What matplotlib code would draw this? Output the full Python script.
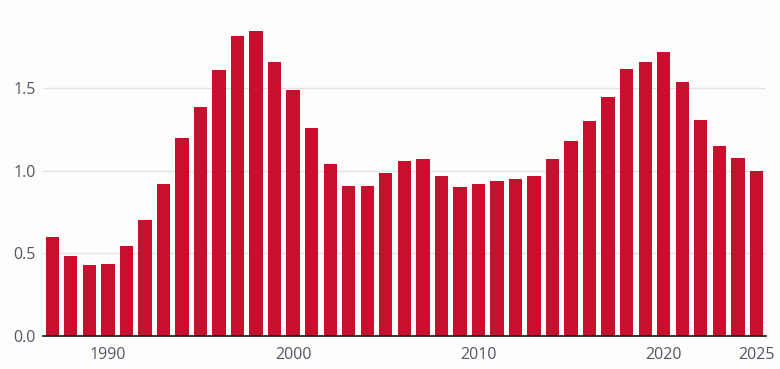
import matplotlib
matplotlib.use("Agg")
import matplotlib.pyplot as plt

years = list(range(1987, 2026))
values = [0.60, 0.485, 0.43, 0.436, 0.545, 0.70, 0.92, 1.20, 1.39, 1.61,
          1.82, 1.85, 1.66, 1.49, 1.26, 1.04, 0.91, 0.91, 0.99, 1.06,
          1.07, 0.97, 0.90, 0.92, 0.94, 0.95, 0.97, 1.07, 1.18, 1.30,
          1.45, 1.62, 1.66, 1.72, 1.54, 1.31, 1.15, 1.08, 1.00]
xticks = [1990, 2000, 2010, 2020, 2025]
yticks = [0.0, 0.5, 1.0, 1.5]
ytick_labels = ["0.0", "0.5", "1.0", "1.5"]

plt.rcParams['font.family'] = ['Open Sans', 'DejaVu Sans']
fig = plt.figure(figsize=(7.8, 3.69), dpi=100, facecolor="#fefdfc")
ax = fig.add_axes([43/780, (369-336)/369, (766-43)/780, 336/369])
ax.set_facecolor("#fefdfc")
ax.bar(years, values, width=0.72, color="#c8102e", zorder=2)
ax.set_xlim(1986.5, 2025.52)
ax.set_ylim(0, 2.036)
ax.set_yticks(yticks)
ax.set_yticklabels(ytick_labels)
ax.set_xticks(xticks)
ax.set_xticklabels([str(x) for x in xticks])
ax.grid(axis="y", color="#e3e3e3", linewidth=1, zorder=0)
for s in ["top", "right", "left"]:
    ax.spines[s].set_visible(False)
ax.spines["bottom"].set_color("#111111")
ax.spines["bottom"].set_linewidth(1.2)
ax.spines["bottom"].set_zorder(3)
ax.tick_params(axis="both", length=0, labelsize=11.5, colors="#515766")
ax.tick_params(axis="y", pad=5)
ax.tick_params(axis="x", pad=8)
fig.savefig("out.png", dpi=100, facecolor=fig.get_facecolor())
